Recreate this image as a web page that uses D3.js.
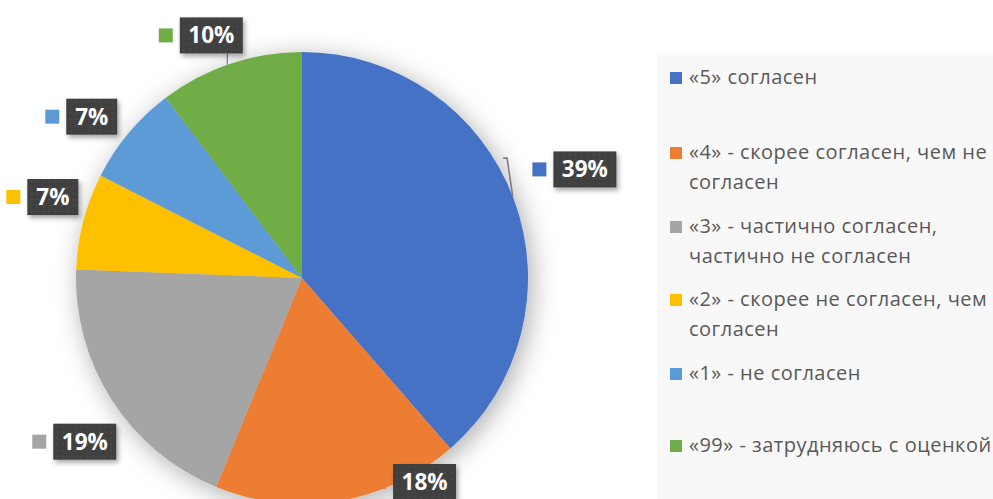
<!DOCTYPE html>
<html><head><meta charset="utf-8">
<script src="https://cdn.jsdelivr.net/npm/d3@7"></script>
<style>
html,body{margin:0;padding:0;background:#fff;overflow:hidden}
svg{display:block}
</style></head>
<body>
<svg id="chart" width="993" height="499"></svg>
<script>
// ---- data ----
const categories = [
  "«5» согласен",
  "«4» - скорее согласен, чем не согласен",
  "«3» - частично согласен, частично не согласен",
  "«2» - скорее не согласен, чем согласен",
  "«1» - не согласен",
  "«99» - затрудняюсь с оценкой"
];
const values = [38.6, 17.6, 19.4, 6.9, 7.2, 10.3];
const labels = ["39%", "18%", "19%", "7%", "7%", "10%"];
const legendLines = [
  ["«5» согласен"],
  ["«4» - скорее согласен, чем не", "согласен"],
  ["«3» - частично согласен,", "частично не согласен"],
  ["«2» - скорее не согласен, чем", "согласен"],
  ["«1» - не согласен"],
  ["«99» - затрудняюсь с оценкой"]
];
const colors = ["#4472C4", "#ED7D31", "#A5A5A5", "#FFC000", "#5B9BD5", "#70AD47"];

// ---- layout ----
const W = 993, H = 499;
const cx = 302, cy = 278, R = 226;
// label placement (polar, relative to pie center): distance & angle in degrees
const labelPolar = [[303, 69], [238, 149], [272, 233], [262, 288], [265, 307.5], [259, 339.5]];

const svg = d3.select("#chart");
const defs = svg.append("defs");

const pieShadow = defs.append("filter").attr("id","pieShadow")
  .attr("x","-30%").attr("y","-30%").attr("width","160%").attr("height","160%");
pieShadow.append("feDropShadow").attr("dx",4).attr("dy",5).attr("stdDeviation",13)
  .attr("flood-color","#000").attr("flood-opacity",0.32);

const boxShadow = defs.append("filter").attr("id","boxShadow")
  .attr("x","-30%").attr("y","-30%").attr("width","160%").attr("height","160%");
boxShadow.append("feDropShadow").attr("dx",2).attr("dy",3).attr("stdDeviation",2.5)
  .attr("flood-color","#000").attr("flood-opacity",0.35);

const pat = defs.append("pattern").attr("id","dots").attr("patternUnits","userSpaceOnUse")
  .attr("width",6).attr("height",6);
pat.append("rect").attr("width",6).attr("height",6).attr("fill","#3f3f3f");
pat.append("rect").attr("x",2).attr("y",2).attr("width",1.2).attr("height",1.2).attr("fill","#5a5a5a");

// legend background
svg.append("rect").attr("x",657).attr("y",55).attr("width",W-657).attr("height",H-55)
  .attr("fill","#f8f8f8");

// pie
const pie = d3.pie().sort(null).value(d => d);
const arcs = pie(values);
const arc = d3.arc().innerRadius(0).outerRadius(R);

const g = svg.append("g").attr("transform",`translate(${cx},${cy})`);
const slices = g.append("g").attr("filter","url(#pieShadow)");
slices.selectAll("path").data(arcs).enter().append("path")
  .attr("d", arc).attr("fill",(d,i)=>colors[i]);

const rad = a => a*Math.PI/180;
function polar(r, aDeg){ return [r*Math.sin(rad(aDeg)), -r*Math.cos(rad(aDeg))]; }

// label geometry
const boxH = 36, sq = 14, gap = 7;
function boxW(t){ return t.length===2 ? 51 : 63; }
const lblPos = labels.map((t,i)=>{
  const [x,y] = polar(labelPolar[i][0], labelPolar[i][1]);
  return {x, y, w: boxW(t)};
});

// leader for 39%
{
  const e = polar(R, 68.8);
  const top = polar(237.5, 59.7);
  g.append("polyline")
    .attr("points", [[top[0]-4, top[1]],[top[0], top[1]],[e[0], e[1]]].map(q=>q.join(",")).join(" "))
    .attr("fill","none").attr("stroke","#7f7f7f").attr("stroke-width",1.6);
}
// leader for 10%
{
  const p = lblPos[5];
  const lx = p.x + 16;
  const ey = -Math.sqrt(R*R - lx*lx);
  g.append("line").attr("x1",lx).attr("x2",lx).attr("y1",p.y+boxH/2).attr("y2",ey)
    .attr("stroke","#7f7f7f").attr("stroke-width",1.2);
}

const lg = g.append("g");
labels.forEach((t,i)=>{
  const p = lblPos[i];
  const gg = lg.append("g").attr("transform",`translate(${p.x},${p.y})`);
  gg.append("rect").attr("x",-p.w/2-gap-sq).attr("y",-sq/2).attr("width",sq).attr("height",sq)
    .attr("fill",colors[i]);
  gg.append("rect").attr("x",-p.w/2).attr("y",-boxH/2).attr("width",p.w).attr("height",boxH)
    .attr("fill","url(#dots)").attr("filter","url(#boxShadow)");
  gg.append("text").attr("x",0).attr("y",8).attr("text-anchor","middle")
    .attr("font-family","'Open Sans', sans-serif").attr("font-weight","bold")
    .attr("font-size",22.5).attr("fill","#fff").text(t);
});

// legend
const legendY = [78, 153, 227, 300, 374, 446];
const lineH = 30;
const leg = svg.append("g");
legendLines.forEach((lines,i)=>{
  leg.append("rect").attr("x",670).attr("y",legendY[i]-6).attr("width",12).attr("height",12)
    .attr("fill",colors[i]);
  lines.forEach((ln,j)=>{
    leg.append("text").attr("x",689).attr("y",legendY[i]+6+j*lineH)
      .attr("font-family","'Open Sans', sans-serif").attr("font-size",20)
      .attr("letter-spacing",0.5)
      .attr("fill","#595959").text(ln);
  });
});
</script>
</body></html>
